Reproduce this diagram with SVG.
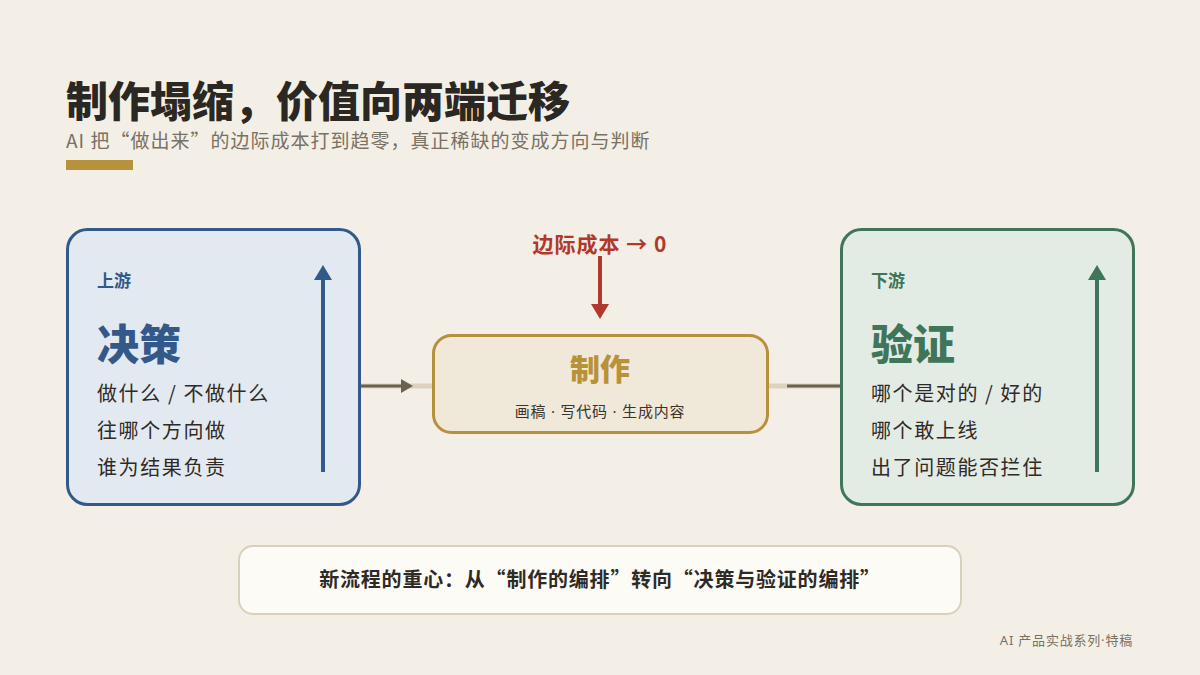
<svg xmlns="http://www.w3.org/2000/svg" width="1200" height="675" viewBox="0 0 1200 675">
  <style>
    .cjk { font-family: "Noto Sans CJK SC", "Noto Sans", sans-serif; }
    .lat { font-family: "Noto Sans", "Noto Sans CJK SC", sans-serif; }
    .title { font-size: 42px; font-weight: 900; fill: #2b2722; }
    .sub { font-size: 19px; fill: #7a7064; letter-spacing: 1px; }
    .tag { font-size: 17px; font-weight: 700; }
    .head { font-size: 42px; font-weight: 900; }
    .item { font-size: 20px; fill: #2f2a26; letter-spacing: 1.6px; }
  </style>
  <rect width="1200" height="675" fill="#f3efe6"/>

  <g id="header">
    <text x="66" y="117" class="cjk title">制作塌缩，价值向两端迁移</text>
    <text x="66" y="148" class="cjk sub">AI 把“做出来”的边际成本打到趋零，真正稀缺的变成方向与判断</text>
    <rect x="66" y="160" width="67" height="10" fill="#b8923a"/>
  </g>

  <g id="connectors">
    <line x1="360" y1="386" x2="841" y2="386" stroke="#dcd2bf" stroke-width="5"/>
    <line x1="361" y1="386" x2="403" y2="386" stroke="#6b6052" stroke-width="3"/>
    <path d="M401,379 L413,386 L401,393 Z" fill="#6b6052"/>
    <line x1="787" y1="386" x2="841" y2="386" stroke="#6b6052" stroke-width="3"/>
    <line x1="600" y1="256" x2="600" y2="306" stroke="#b0392c" stroke-width="4"/>
    <path d="M591,304 L609,304 L600,319 Z" fill="#b0392c"/>
  </g>

  <g id="upstream">
    <rect x="67.5" y="229.5" width="292" height="275" rx="20" fill="#e3e9f1" stroke="#33598a" stroke-width="3"/>
    <text x="97" y="287" class="cjk tag" fill="#33598a">上游</text>
    <text x="97" y="360" class="cjk head" fill="#33598a">决策</text>
    <text x="97" y="401" class="cjk item">做什么 / 不做什么</text>
    <text x="97" y="438" class="cjk item">往哪个方向做</text>
    <text x="97" y="475" class="cjk item">谁为结果负责</text>
    <line x1="323" y1="472" x2="323" y2="280" stroke="#33598a" stroke-width="4"/>
    <path d="M314,280 L332,280 L323,265 Z" fill="#33598a"/>
  </g>

  <g id="make">
    <rect x="433.5" y="335.5" width="334" height="97" rx="18" fill="#f0e8d8" stroke="#b88f3a" stroke-width="3"/>
    <text x="600" y="380" text-anchor="middle" class="cjk" font-size="30" font-weight="900" fill="#b8923a">制作</text>
    <text x="600" y="417" text-anchor="middle" class="lat" font-size="15" fill="#3a332d" letter-spacing="0.8">画稿 · 写代码 · 生成内容</text>
  </g>

  <g id="cost-label">
    <text x="600" y="252" text-anchor="middle" class="cjk" font-size="21" font-weight="700" fill="#b0392c" letter-spacing="1">边际成本 → 0</text>
  </g>

  <g id="downstream">
    <rect x="841.5" y="229.5" width="292" height="275" rx="20" fill="#e3ebe5" stroke="#3f7558" stroke-width="3"/>
    <text x="871" y="287" class="cjk tag" fill="#3f7558">下游</text>
    <text x="871" y="360" class="cjk head" fill="#3f7558">验证</text>
    <text x="871" y="401" class="cjk item">哪个是对的 / 好的</text>
    <text x="871" y="438" class="cjk item">哪个敢上线</text>
    <text x="871" y="475" class="cjk item">出了问题能否拦住</text>
    <line x1="1097" y1="472" x2="1097" y2="280" stroke="#3f7558" stroke-width="4"/>
    <path d="M1088,280 L1106,280 L1097,265 Z" fill="#3f7558"/>
  </g>

  <g id="summary">
    <rect x="239" y="546" width="722" height="68" rx="14" fill="#fcfbf5" stroke="#d9d0bc" stroke-width="2"/>
    <text x="600" y="587" text-anchor="middle" class="cjk" font-size="20" font-weight="700" fill="#2f2a26" letter-spacing="0.8">新流程的重心：从“制作的编排”转向“决策与验证的编排”</text>
  </g>

  <g id="footer">
    <text x="1133" y="645" text-anchor="end" class="lat" font-size="13" fill="#7a7064" letter-spacing="0.8">AI 产品实战系列·特稿</text>
  </g>
</svg>
